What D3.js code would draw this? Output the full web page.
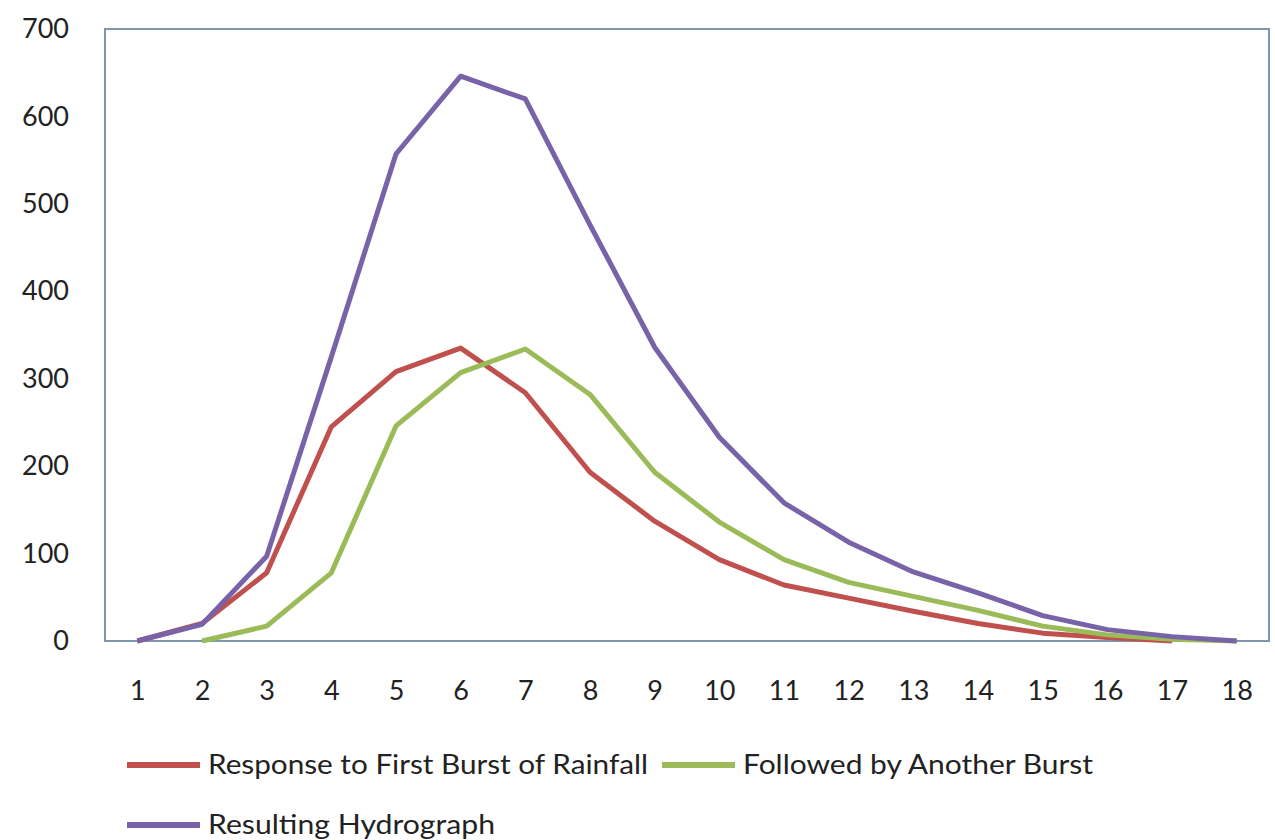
<!DOCTYPE html>
<html>
<head>
<meta charset="utf-8">
<script src="https://cdn.jsdelivr.net/npm/d3@7"></script>
<style>
  body { margin: 0; background: #fff; }
  text { font-family: Lato, "Open Sans", sans-serif; fill: #222; }
</style>
</head>
<body>
<div id="chart"></div>
<script>
// values
var times = [1, 2, 3, 4, 5, 6, 7, 8, 9, 10, 11, 12, 13, 14, 15, 16, 17, 18];
var firstBurst = [0, 20, 78, 245, 308, 335, 284, 193, 137, 93, 64, 49, 34, 20, 9, 4, 0, null];
var secondBurst = [null, 0, 17, 78, 246, 307, 334, 282, 193, 136, 93, 67, 51, 35, 17, 7, 2, 0];
var resulting = [0, 19, 97, 325, 557, 646, 620, 476, 336, 233, 158, 113, 79, 55, 29, 13, 5, 0];
var yTicks = [0, 100, 200, 300, 400, 500, 600, 700];

var seriesNames = ["Response to First Burst of Rainfall", "Followed by Another Burst", "Resulting Hydrograph"];
var seriesColors = ["#C0504D", "#9BBB59", "#7862A8"];

var margin = {top: 29, right: 6, bottom: 199, left: 105},
    W = 1275, H = 840,
    w = W - margin.left - margin.right,
    h = H - margin.top - margin.bottom;

var svg = d3.select("#chart")
  .append("svg")
  .attr("width", W)
  .attr("height", H);

var g = svg.append("g")
  .attr("transform", `translate(${margin.left},${margin.top})`);

var x = d3.scalePoint()
  .domain(times)
  .range([0, w])
  .padding(0.5);

var y = d3.scaleLinear()
  .domain([0, 700])
  .range([h, 0]);

// plot area border
g.append("rect")
  .attr("width", w)
  .attr("height", h)
  .attr("fill", "none")
  .attr("stroke", "#7f97ac")
  .attr("stroke-width", 2);

// axes (labels only, no tick marks)
var xAxis = g.append("g")
  .attr("transform", "translate(0," + h + ")")
  .call(d3.axisBottom(x).tickSize(0).tickPadding(40));
xAxis.select(".domain").remove();
xAxis.selectAll("text")
  .style("font-size", "27px")
  .attr("fill", "#222");

var yAxis = g.append("g")
  .call(d3.axisLeft(y).tickValues(yTicks).tickSize(0).tickPadding(36));
yAxis.select(".domain").remove();
yAxis.selectAll("text")
  .style("font-size", "27px")
  .attr("fill", "#222");

var allSeries = [firstBurst, secondBurst, resulting];

var line = d3.line()
  .defined(d => d.v !== null)
  .x(d => x(d.t))
  .y(d => y(d.v));

// purple drawn last so it sits on top like the original
[0, 1, 2].forEach(function (i) {
  var pts = times.map((t, j) => ({t: t, v: allSeries[i][j]}));
  g.append("path")
    .datum(pts)
    .attr("fill", "none")
    .attr("stroke", seriesColors[i])
    .attr("stroke-width", 5)
    .attr("stroke-linejoin", "round")
    .attr("d", line);
});

// legend
var legendPos = [
  {x: 127, y: 765, tw: 440},
  {x: 662, y: 765, tw: 350},
  {x: 127, y: 825, tw: 287}
];
legendPos.forEach(function (p, i) {
  var lg = svg.append("g").attr("transform", `translate(${p.x},${p.y})`);
  lg.append("line")
    .attr("x1", 0).attr("x2", 73)
    .attr("y1", 0).attr("y2", 0)
    .attr("stroke", seriesColors[i])
    .attr("stroke-width", 6);
  lg.append("text")
    .attr("x", 81)
    .attr("y", 9)
    .style("font-size", "26px")
    .attr("textLength", p.tw)
    .attr("lengthAdjust", "spacingAndGlyphs")
    .text(seriesNames[i]);
});
</script>
</body>
</html>
